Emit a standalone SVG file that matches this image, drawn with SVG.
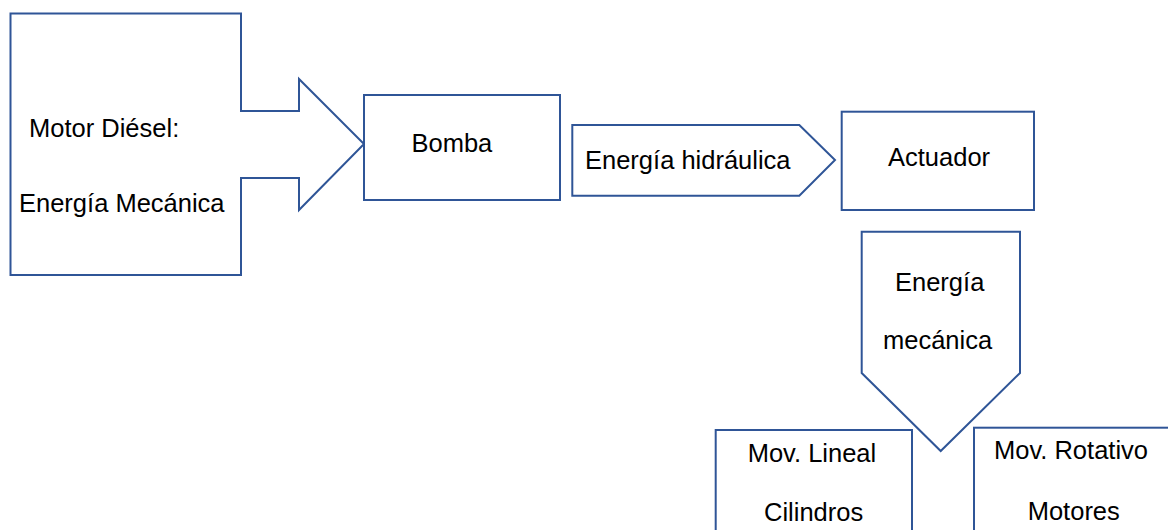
<svg xmlns="http://www.w3.org/2000/svg" width="1168" height="530" viewBox="0 0 1168 530">
<style>
.s{fill:#fff;stroke:#2F5597;stroke-width:2;stroke-linejoin:miter}
.t{font-family:"Liberation Sans",Arial,sans-serif;font-size:25.5px;fill:#000}
</style>
<rect width="1168" height="530" fill="#fff"/>
<g id="motor">
<polygon class="s" points="10.5,13.5 241,13.5 241,111 299,111 299,79 364,144 299,210 299,178 241,178 241,275 10.5,275"/>
<text class="t" x="29" y="137">Motor Diésel:</text>
<text class="t" x="19" y="212">Energía Mecánica</text>
</g>
<g id="bomba">
<rect class="s" x="364" y="95" width="196" height="105"/>
<text class="t" x="411.5" y="151.5">Bomba</text>
</g>
<g id="connectors">
<g id="hidraulica">
<polygon class="s" points="572.3,125 799.3,125 835,160 799.3,195.7 572.3,195.7"/>
<text class="t" x="585" y="169.3">Energía hidráulica</text>
</g>
<g id="mecanica">
<polygon class="s" points="861.7,231.7 1020,231.7 1020,373 940.7,451 861.7,373"/>
<text class="t" x="895" y="290.5">Energía</text>
<text class="t" x="883" y="349">mecánica</text>
</g>
</g>
<g id="actuador">
<rect class="s" x="841.7" y="111.7" width="192.3" height="98.3"/>
<text class="t" x="888" y="165.7">Actuador</text>
</g>
<g id="lineal">
<rect class="s" x="715.7" y="430" width="196.3" height="120"/>
<text class="t" x="747.7" y="461.7">Mov. Lineal</text>
<text class="t" x="764" y="521">Cilindros</text>
</g>
<g id="rotativo">
<rect class="s" x="974" y="427.7" width="220" height="120"/>
<text class="t" x="994" y="459">Mov. Rotativo</text>
<text class="t" x="1027.7" y="520">Motores</text>
</g>
</svg>
